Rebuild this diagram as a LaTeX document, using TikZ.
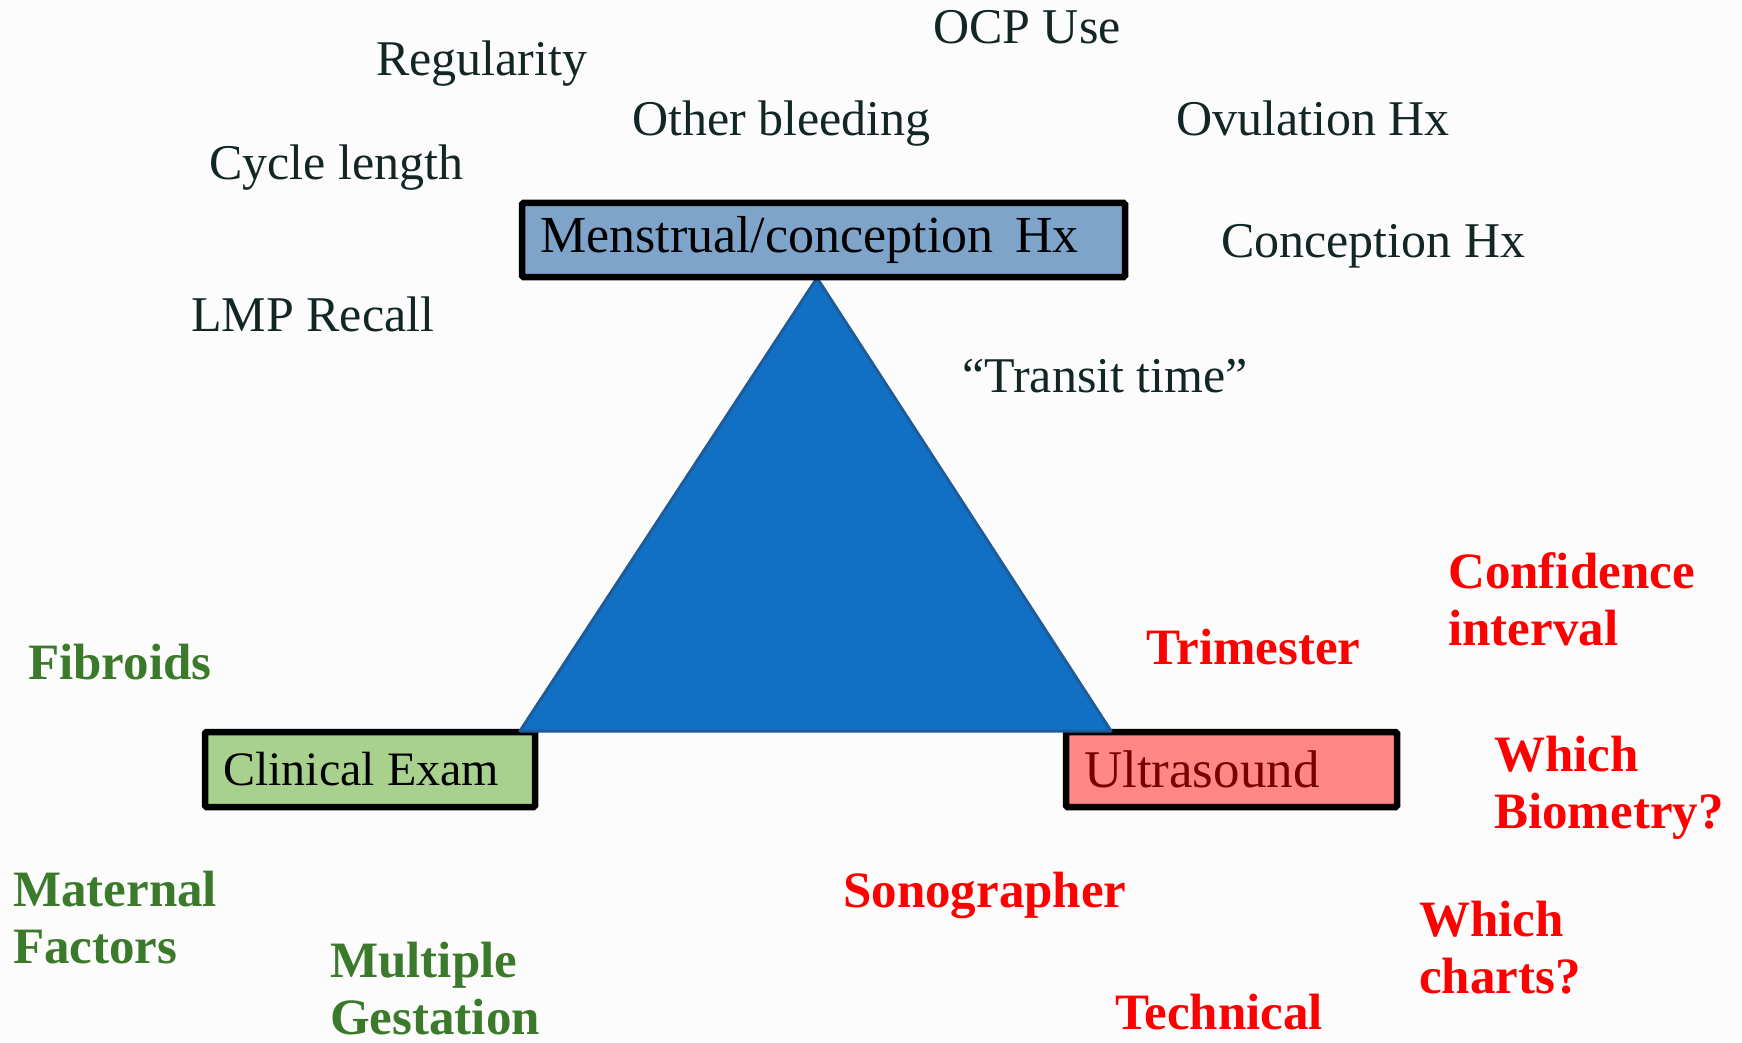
\documentclass[tikz,border=0pt]{standalone}
\usepackage{fontspec}
\setmainfont{Liberation Serif}
\definecolor{bgc}{HTML}{FCFCFC}
\definecolor{darktxt}{HTML}{132626}
\definecolor{greentxt}{HTML}{3C7A2B}
\definecolor{redtxt}{HTML}{FF0000}
\definecolor{topfill}{HTML}{7EA4CA}
\definecolor{clinfill}{HTML}{A9D18E}
\definecolor{usfill}{HTML}{FF8787}
\definecolor{ustxt}{HTML}{7A0000}
\definecolor{trifill}{HTML}{1170C4}
\definecolor{triedge}{HTML}{1D5B9B}
\tikzset{
  plainlab/.style={anchor=base west, inner sep=0pt, text=darktxt, font=\fontsize{50}{57}\selectfont},
  greenlab/.style={anchor=base west, inner sep=0pt, text=greentxt, align=left, font=\fontsize{51}{57}\selectfont\bfseries},
  redlab/.style={anchor=base west, inner sep=0pt, text=redtxt, align=left, font=\fontsize{51}{57}\selectfont\bfseries},
  boxnode/.style={draw=black, line width=6.5pt, rounded corners=1.5pt, inner xsep=18pt, inner ysep=0pt}
}
\begin{document}
\begin{tikzpicture}[x=1pt,y=-1pt]
\useasboundingbox (0,0) rectangle (1742,1043);
\fill[bgc] (0,0) rectangle (1742,1043);

% bottom boxes
\node[boxnode, fill=clinfill, minimum height=75pt, font=\fontsize{48}{56}\selectfont] (clin) at (370,769.5) {\makebox[294pt][l]{Clinical Exam}};
\node[boxnode, fill=usfill, text=ustxt, minimum height=75pt, font=\fontsize{53}{60}\selectfont] (us) at (1231.5,769.5) {\makebox[295pt][l]{Ultrasound}};

% triangle
\filldraw[fill=trifill, draw=triedge, line width=3pt, line join=round] (817,278) -- (520,731) -- (1111,731) -- cycle;

% top box
\node[boxnode, fill=topfill, minimum height=74pt, font=\fontsize{52}{60}\selectfont] (mch) at (823.5,240) {\makebox[567pt][l]{\raisebox{-2pt}{Menstrual/conception\ \,Hx}}};

% dark labels
\node[plainlab] (ocp) at (933,44) {OCP Use};
\node[plainlab] (reg) at (376,76) {Regularity};
\node[plainlab] (oth) at (632,136) {Other bleeding};
\node[plainlab] (ovu) at (1176,136) {Ovulation Hx};
\node[plainlab] (cyc) at (209,180) {Cycle length};
\node[plainlab] (con) at (1221,257) {Conception Hx};
\node[plainlab] (lmp) at (191,331) {LMP Recall};
\node[plainlab] (tra) at (962,392) {“Transit time”};

% green labels (base = last line)
\node[greenlab] (fib) at (28,679) {Fibroids};
\node[greenlab] (mat) at (13,963) {Maternal\\Factors};
\node[greenlab] (mul) at (330,1034) {Multiple\\Gestation};

% red labels (base = last line)
\node[redlab] (tri) at (1146,664) {Trimester};
\node[redlab] (cnf) at (1448,645) {Confidence\\interval};
\node[redlab] (bio) at (1494,828) {Which\\Biometry?};
\node[redlab] (son) at (843,907) {Sonographer};
\node[redlab] (cha) at (1419,993) {Which\\charts?};
\node[redlab] (tec) at (1115,1029) {Technical};
\end{tikzpicture}
\end{document}
